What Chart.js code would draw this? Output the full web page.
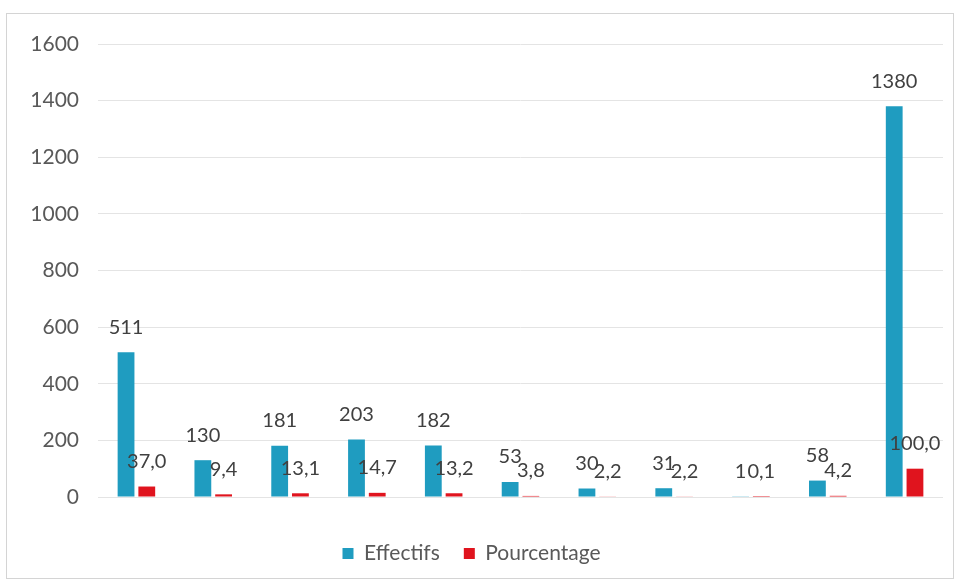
<!DOCTYPE html>
<html>
<head>
<meta charset="utf-8">
<script src="https://cdn.jsdelivr.net/npm/chart.js@4/dist/chart.umd.min.js"></script>
<style>
  html, body { margin: 0; padding: 0; background: #ffffff; }
  #frame { position: absolute; left: 6px; top: 13px; width: 948px; height: 566px; border: 1px solid #d4d4d4; box-sizing: border-box; }
  #wrap { position: absolute; left: 0; top: 0; width: 958px; height: 582px; }
</style>
</head>
<body>
<div id="frame"></div>
<div id="wrap"><canvas id="c" width="958" height="582"></canvas></div>
<script>
const categories = ["1", "2", "3", "4", "5", "6", "7", "8", "9", "10", "11"];
const effectifs = [511, 130, 181, 203, 182, 53, 30, 31, 1, 58, 1380];
const pourcentage = [37.0, 9.4, 13.1, 14.7, 13.2, 3.8, 2.2, 2.2, 0.1, 4.2, 100.0];
const yTicks = [0, 200, 400, 600, 800, 1000, 1200, 1400, 1600];

const FONT = "Lato, 'Open Sans', sans-serif";
const TEXT = "#595959";

const labelPlugin = {
  id: "valueLabels",
  afterDatasetsDraw(chart) {
    const ctx = chart.ctx;
    ctx.save();
    ctx.font = "20px " + FONT;
    ctx.fillStyle = "#404040";
    ctx.textAlign = "center";
    ctx.textBaseline = "bottom";
    chart.data.datasets.forEach((ds, di) => {
      const meta = chart.getDatasetMeta(di);
      meta.data.forEach((bar, i) => {
        const v = ds.data[i];
        const txt = di === 0 ? String(v) : v.toFixed(1).replace(".", ",");
        ctx.fillText(txt, bar.x, bar.y - 15);
      });
    });
    ctx.restore();
  }
};

new Chart(document.getElementById("c"), {
  type: "bar",
  data: {
    labels: categories,
    datasets: [
      { label: "Effectifs", data: effectifs, backgroundColor: "#1f9cc0", barPercentage: 0.81, categoryPercentage: 0.54 },
      { label: "Pourcentage", data: pourcentage, backgroundColor: "#e0141e", barPercentage: 0.81, categoryPercentage: 0.54 }
    ]
  },
  options: {
    responsive: false,
    animation: false,
    layout: { padding: { top: 44, right: 15, left: 0, bottom: 8 } },
    plugins: {
      legend: {
        position: "bottom",
        labels: { font: { family: FONT, size: 21 }, color: TEXT, boxWidth: 11, boxHeight: 11, padding: 24 }
      },
      tooltip: { enabled: false }
    },
    scales: {
      x: {
        display: true,
        border: { display: false },
        grid: { display: false, drawTicks: false },
        ticks: { display: false },
        afterFit(scale) { scale.height = 22; }
      },
      y: {
        min: 0, max: 1600,
        afterBuildTicks(scale) { scale.ticks = yTicks.map(v => ({ value: v })); },
        afterFit(scale) { scale.width = 98; },
        border: { display: false },
        grid: { color: "#e4e4e4", drawTicks: false, lineWidth: 1 },
        ticks: { font: { family: FONT, size: 21 }, color: TEXT, padding: 19, callback: v => String(v) }
      }
    }
  },
  plugins: [labelPlugin]
});
</script>
</body>
</html>
